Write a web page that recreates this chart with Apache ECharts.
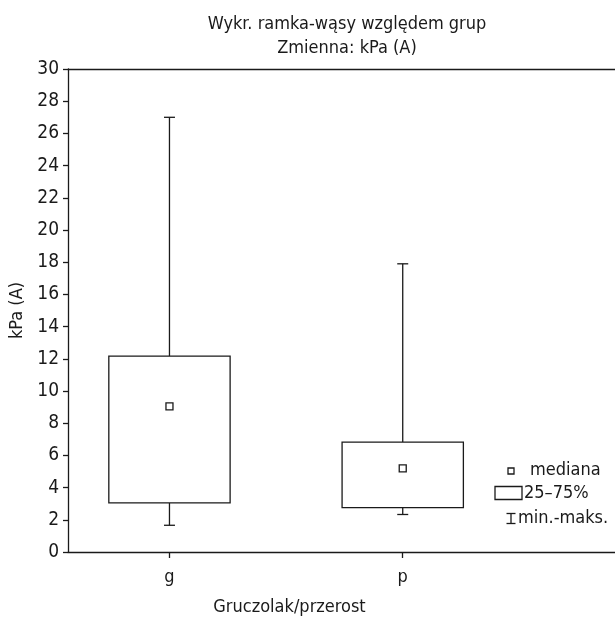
<!DOCTYPE html>
<html>
<head>
<meta charset="utf-8">
<script src="https://cdn.jsdelivr.net/npm/echarts@6/dist/echarts.min.js"></script>
<style>
html,body{margin:0;padding:0;background:#fff;}
#chart{width:615px;height:619px;}
</style>
</head>
<body>
<div id="chart"></div>
<script>
// Data
var categories = ['g', 'p'];
var minValues = [1.66, 2.33];
var q1Values = [3.05, 2.76];
var medianValues = [9.05, 5.19];
var q3Values = [12.17, 6.83];
var maxValues = [27.0, 17.9];
var yTicks = [0, 2, 4, 6, 8, 10, 12, 14, 16, 18, 20, 22, 24, 26, 28, 30];

var FONT = '"Liberation Sans Narrow", "DejaVu Sans Condensed", "Liberation Sans", sans-serif';
var INK = '#1a1a1a';

var positions = categories.map(function (c, i) { return i + 1; });
var boxData = categories.map(function (c, i) {
  return [positions[i], minValues[i], q1Values[i], medianValues[i], q3Values[i], maxValues[i]];
});

var chart = echarts.init(document.getElementById('chart'), null, {renderer: 'canvas'});

function renderBox(params, api) {
  var x = api.value(0);
  var pMin = api.coord([x, api.value(1)]);
  var pQ1 = api.coord([x, api.value(2)]);
  var pMed = api.coord([x, api.value(3)]);
  var pQ3 = api.coord([x, api.value(4)]);
  var pMax = api.coord([x, api.value(5)]);
  var halfW = api.size([0.52, 0])[0] / 2;
  var cap = 5.5;
  var ls = {stroke: INK, lineWidth: 1.3, fill: null};
  return {
    type: 'group',
    children: [
      {type: 'line', shape: {x1: pMin[0], y1: pMin[1], x2: pQ1[0], y2: pQ1[1]}, style: ls},
      {type: 'line', shape: {x1: pQ3[0], y1: pQ3[1], x2: pMax[0], y2: pMax[1]}, style: ls},
      {type: 'line', shape: {x1: pMin[0] - cap, y1: pMin[1], x2: pMin[0] + cap, y2: pMin[1]}, style: ls},
      {type: 'line', shape: {x1: pMax[0] - cap, y1: pMax[1], x2: pMax[0] + cap, y2: pMax[1]}, style: ls},
      {type: 'rect', shape: {x: pQ3[0] - halfW, y: pQ3[1], width: halfW * 2, height: pQ1[1] - pQ3[1]},
        style: {stroke: INK, lineWidth: 1.3, fill: '#fff'}},
      {type: 'rect', shape: {x: pMed[0] - 3.5, y: pMed[1] - 3.5, width: 7, height: 7},
        style: {stroke: INK, lineWidth: 1.3, fill: '#fff'}}
    ]
  };
}

var option = {
  animation: false,
  backgroundColor: '#fff',
  title: {
    text: 'Wykr. ramka-wąsy względem grup\nZmienna: kPa (A)',
    left: 342,
    textAlign: 'center',
    top: 7,
    textStyle: {fontFamily: FONT, fontSize: 18, fontWeight: 'normal', color: INK, lineHeight: 24}
  },
  grid: {left: 68, right: 0, top: 69, bottom: 67, containLabel: false, outerBoundsMode: 'none'},
  xAxis: [{
    type: 'value',
    min: 0.565,
    max: 2.91,
    name: 'Gruczolak/przerost',
    nameLocation: 'middle',
    nameGap: 46,
    nameTextStyle: {fontFamily: FONT, fontSize: 18, color: INK, padding: [0, 104, 0, 0]},
    axisLine: {show: true, lineStyle: {color: INK, width: 1.3}},
    axisTick: {show: true, length: 6, customValues: positions, lineStyle: {color: INK, width: 1.3}},
    axisLabel: {
      show: true, customValues: positions, margin: 16,
      fontFamily: FONT, fontSize: 18, color: INK,
      formatter: function (v) { var i = Math.round(v) - 1; return categories[i] || ''; }
    },
    splitLine: {show: false}
  }, {
    type: 'value',
    position: 'top',
    min: 0.565,
    max: 2.91,
    axisLine: {show: true, onZero: false, lineStyle: {color: INK, width: 1.3}},
    axisTick: {show: false},
    axisLabel: {show: false},
    splitLine: {show: false}
  }],
  yAxis: {
    type: 'value',
    min: 0,
    max: 30,
    interval: 2,
    name: 'kPa (A)',
    nameLocation: 'middle',
    nameGap: 41,
    nameTextStyle: {fontFamily: FONT, fontSize: 18, color: INK},
    axisLine: {show: true, lineStyle: {color: INK, width: 1.3}},
    axisTick: {show: true, length: 5, lineStyle: {color: INK, width: 1.3}},
    axisLabel: {
      fontFamily: FONT, fontSize: 19, color: INK, margin: 9,
      formatter: function (v) { return yTicks.indexOf(v) >= 0 ? String(v) : ''; }
    },
    splitLine: {show: false}
  },
  series: [{
    type: 'custom',
    name: 'box',
    xAxisIndex: 0,
    renderItem: renderBox,
    encode: {x: 0, y: [1, 2, 3, 4, 5]},
    data: boxData
  }],
  graphic: [
    {type: 'rect', x: 508, y: 468, shape: {width: 6, height: 6}, style: {stroke: INK, lineWidth: 1.3, fill: '#fff'}},
    {type: 'text', x: 530, y: 470.5, style: {text: 'mediana', font: '18px ' + FONT, fill: INK, verticalAlign: 'middle'}},
    {type: 'rect', x: 495, y: 486.5, shape: {width: 27, height: 13}, style: {stroke: INK, lineWidth: 1.3, fill: '#fff'}},
    {type: 'text', x: 524, y: 493, style: {text: '25–75%', font: '18px ' + FONT, fill: INK, verticalAlign: 'middle'}},
    {type: 'group', x: 506.5, y: 513.5, children: [
      {type: 'line', shape: {x1: 4.5, y1: 0, x2: 4.5, y2: 10}, style: {stroke: INK, lineWidth: 1.3}},
      {type: 'line', shape: {x1: 0, y1: 0, x2: 9, y2: 0}, style: {stroke: INK, lineWidth: 1.3}},
      {type: 'line', shape: {x1: 0, y1: 10, x2: 9, y2: 10}, style: {stroke: INK, lineWidth: 1.3}}
    ]},
    {type: 'text', x: 518, y: 518.5, style: {text: 'min.-maks.', font: '18px ' + FONT, fill: INK, verticalAlign: 'middle'}}
  ]
};
chart.setOption(option);
</script>
</body>
</html>
